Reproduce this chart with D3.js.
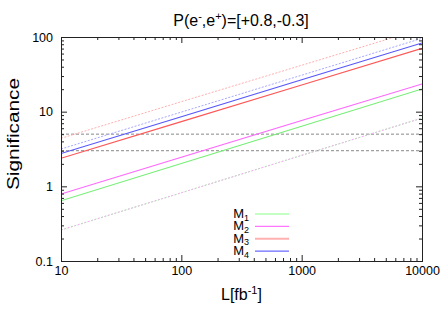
<!DOCTYPE html>
<html>
<head>
<meta charset="utf-8">
<script src="https://cdn.jsdelivr.net/npm/d3@7"></script>
<style>
	body { margin: 0; background: #fff; }
	svg { font-family: "Liberation Sans", Arial, sans-serif; }
</style>
</head>
<body>
<div id="container"></div>
<script>
	// luminosity points (fb^-1) and significance
	var lumi = [10, 100, 1000, 10000];

	// solid lines
	var sigM1 = [0.64, 2.02, 6.37, 20.1];
	var sigM2 = [0.79, 2.45, 7.6, 23.5];
	var sigM3 = [2.38, 7.36, 22.8, 70.5];
	var sigM4 = [2.75, 8.56, 26.7, 83];

	// dotted lines
	var sigM1b = [0.26, 0.82, 2.6, 8.2];
	var sigM2b = [0.26, 0.82, 2.6, 8.2];
	var sigM3b = [4.4, 13.6, 41.8, 129];
	var sigM4b = [3.16, 9.87, 30.8, 96];

	// 3 sigma / 5 sigma reference lines
	var thresholds = [3, 5];

	var xTicks = [10, 100, 1000, 10000];
	var yTicks = [0.1, 1, 10, 100];

	var legendNames = ["1", "2", "3", "4"];
	var legendColors = ["#88ff88", "#ff77ff", "#ffb0b0", "#6a6aff"];

	var series = [
		{ values: sigM1b, color: "#99ee99", dash: "2,1.5", width: 1 },
		{ values: sigM2b, color: "#ffaaff", dash: "1.5,2", width: 1 },
		{ values: sigM3b, color: "#ffb0b0", dash: "2,1.5", width: 1 },
		{ values: sigM4b, color: "#a8a8ff", dash: "2,1.5", width: 1 },
		{ values: sigM1, color: "#77ee77", dash: null, width: 1.1 },
		{ values: sigM2, color: "#ff66ff", dash: null, width: 1.1 },
		{ values: sigM3, color: "#ff5555", dash: null, width: 1.1 },
		{ values: sigM4, color: "#5555ff", dash: null, width: 1.1 }
	];

	var width = 445, height = 312;
	var pLeft = 61, pRight = 422, pTop = 37, pBottom = 261;

	var svg = d3.select('#container')
		.append('svg')
		.attr('width', width)
		.attr('height', height);

	var x = d3.scaleLog().domain([10, 10000]).range([pLeft, pRight]);
	var y = d3.scaleLog().domain([0.1, 100]).range([pBottom, pTop]);

	svg.append('clipPath').attr('id', 'plotclip')
		.append('rect')
		.attr('x', pLeft).attr('y', pTop)
		.attr('width', pRight - pLeft).attr('height', pBottom - pTop);

	var plot = svg.append('g').attr('clip-path', 'url(#plotclip)');

	// dashed threshold lines
	plot.selectAll('line.thr')
		.data(thresholds)
		.enter().append('line')
		.attr('class', 'thr')
		.attr('x1', pLeft).attr('x2', pRight)
		.attr('y1', function(d){ return y(d); })
		.attr('y2', function(d){ return y(d); })
		.style('stroke', '#888')
		.style('stroke-width', 1)
		.style('stroke-dasharray', '3,2');

	var line = d3.line()
		.x(function(d, i){ return x(lumi[i]); })
		.y(function(d){ return y(d); });

	plot.selectAll('path.sig')
		.data(series)
		.enter().append('path')
		.attr('class', 'sig')
		.attr('d', function(d){ return line(d.values); })
		.style('fill', 'none')
		.style('stroke', function(d){ return d.color; })
		.style('stroke-width', function(d){ return d.width; })
		.style('stroke-dasharray', function(d){ return d.dash; });

	// axes: major ticks inward, minor ticks inward, mirrored on top/right
	var minorX = x.ticks().filter(function(v){ return xTicks.indexOf(v) < 0; });
	var minorY = y.ticks().filter(function(v){ return yTicks.indexOf(v) < 0; });

	var fmt = function(d){ return d < 1 ? "0.1" : String(d); };

	svg.append('g')
		.attr('transform', 'translate(0,' + pBottom + ')')
		.call(d3.axisBottom(x).tickValues(xTicks).tickFormat(fmt).tickSize(-6).tickPadding(5));
	svg.append('g')
		.attr('transform', 'translate(0,' + pBottom + ')')
		.call(d3.axisBottom(x).tickValues(minorX).tickFormat('').tickSize(-3));
	svg.append('g')
		.attr('transform', 'translate(0,' + pTop + ')')
		.call(d3.axisTop(x).tickValues(xTicks).tickFormat('').tickSize(-6));
	svg.append('g')
		.attr('transform', 'translate(0,' + pTop + ')')
		.call(d3.axisTop(x).tickValues(minorX).tickFormat('').tickSize(-3));

	svg.append('g')
		.attr('transform', 'translate(' + pLeft + ',0)')
		.call(d3.axisLeft(y).tickValues(yTicks).tickFormat(fmt).tickSize(-6).tickPadding(8));
	svg.append('g')
		.attr('transform', 'translate(' + pLeft + ',0)')
		.call(d3.axisLeft(y).tickValues(minorY).tickFormat('').tickSize(-3));
	svg.append('g')
		.attr('transform', 'translate(' + pRight + ',0)')
		.call(d3.axisRight(y).tickValues(yTicks).tickFormat('').tickSize(-6));
	svg.append('g')
		.attr('transform', 'translate(' + pRight + ',0)')
		.call(d3.axisRight(y).tickValues(minorY).tickFormat('').tickSize(-3));

	svg.selectAll('.domain').style('stroke', '#222');
	svg.selectAll('.tick line').style('stroke', '#222');
	svg.selectAll('.tick text')
		.style('font-family', '"Liberation Sans", Arial, sans-serif')
		.style('font-size', '12.5px')
		.style('fill', '#000');

	// title
	var title = svg.append('text')
		.attr('x', 241).attr('y', 26)
		.attr('text-anchor', 'middle')
		.style('font-size', '16px');
	title.append('tspan').text('P(e');
	title.append('tspan').attr('dy', -6).style('font-size', '11px').text('-');
	title.append('tspan').attr('dy', 6).text(',e');
	title.append('tspan').attr('dy', -6).style('font-size', '11px').text('+');
	title.append('tspan').attr('dy', 6).text(')=[+0.8,-0.3]');

	// y label
	svg.append('text')
		.attr('transform', 'translate(19,134) rotate(-90)')
		.attr('text-anchor', 'middle')
		.attr('textLength', 112)
		.attr('lengthAdjust', 'spacingAndGlyphs')
		.style('font-size', '16px')
		.text('Significance');

	// x label
	var xl = svg.append('text')
		.attr('x', 221).attr('y', 300)
		.style('font-size', '16px');
	xl.append('tspan').text('L[fb');
	xl.append('tspan').attr('dy', -6).style('font-size', '11px').text('-1');
	xl.append('tspan').attr('dy', 6).text(']');

	// legend
	var leg = svg.selectAll('g.leg')
		.data(legendNames)
		.enter().append('g')
		.attr('class', 'leg')
		.attr('transform', function(d, i){ return 'translate(0,' + (214 + i * 12.4) + ')'; });

	var lt = leg.append('text')
		.attr('x', 249).attr('y', 4)
		.attr('text-anchor', 'end')
		.style('font-size', '13px');
	lt.append('tspan').text('M');
	lt.append('tspan').attr('dy', 2.5).style('font-size', '9px').text(function(d){ return d; });

	leg.append('line')
		.attr('x1', 255).attr('x2', 289)
		.attr('y1', 0).attr('y2', 0)
		.style('stroke', function(d, i){ return legendColors[i]; })
		.style('stroke-width', function(d, i){ return i == 2 ? 2 : 1.2; });
</script>
</body>
</html>
